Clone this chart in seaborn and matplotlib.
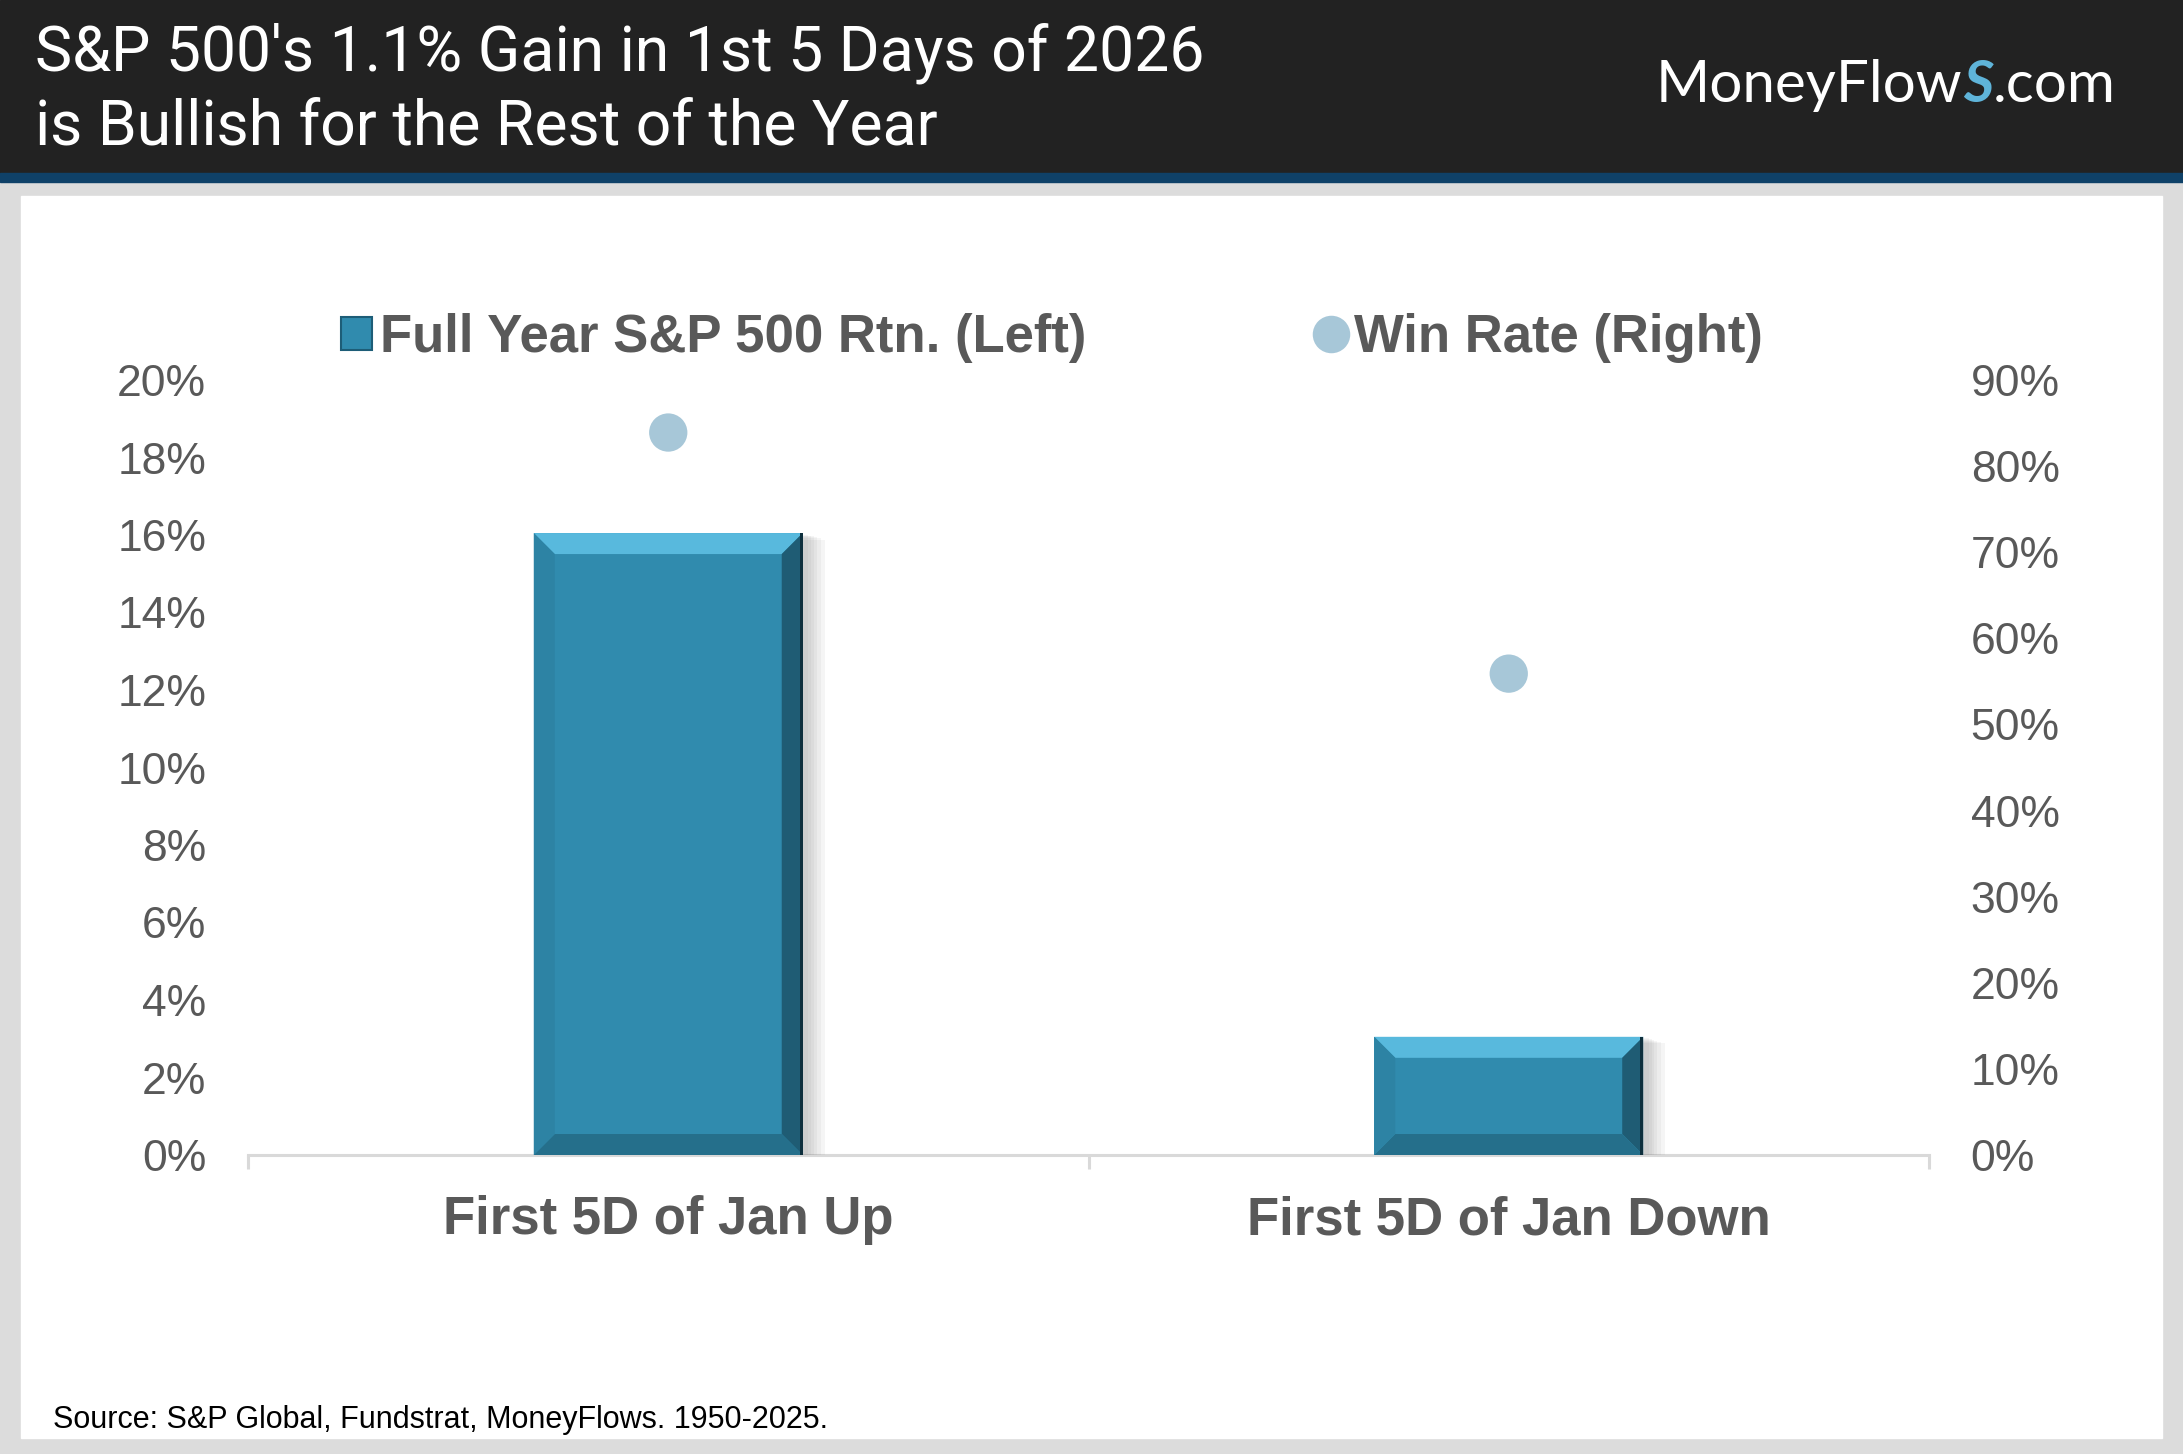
import numpy as np
import pandas as pd
import matplotlib
matplotlib.use("Agg")
import matplotlib.pyplot as plt
import matplotlib.patheffects as pe
from matplotlib.patches import Rectangle, Polygon, Patch
from matplotlib.lines import Line2D
from matplotlib.transforms import IdentityTransform
from matplotlib.ticker import FuncFormatter, MultipleLocator, FixedLocator
import seaborn as sns

# data
categories = ["First 5D of Jan Up", "First 5D of Jan Down"]
full_year_rtn = [16.05, 3.05]    # % (left axis)
win_rate = [83.9, 55.9]          # % (right axis)

TITLE = "S&P 500's 1.1% Gain in 1st 5 Days of 2026\nis Bullish for the Rest of the Year"
SOURCE = "Source: S&P Global, Fundstrat, MoneyFlows. 1950-2025."
BAR_LABEL = "Full Year S&P 500 Rtn. (Left)"
DOT_LABEL = "Win Rate (Right)"

BAR_COLOR = "#308bae"
DOT_COLOR = "#a7c7d8"
TXT_GRAY = "#595959"
AXIS_GRAY = "#d9d9d9"

sns.set_theme(style="white")
plt.rcParams["font.family"] = ["Liberation Sans", "DejaVu Sans"]

DPI = 100
fig = plt.figure(figsize=(21.83, 14.54), dpi=DPI, facecolor="#dcdcdc")

# header, stripe and white panel (figure pixels)
W, H = 2183, 1454
def px_rect(x0, y0, x1, y1, color):
    fig.patches.append(Rectangle((x0 / W, 1 - y1 / H), (x1 - x0) / W, (y1 - y0) / H,
                                 transform=fig.transFigure, color=color, zorder=-10))
px_rect(0, 0, W, 173, "#222222")
px_rect(0, 173, W, 182, "#0f4168")
px_rect(21, 196, 2162, 1438, "white")

fig.text(35 / W, 1 - 90 / H, TITLE, color="white", fontsize=45, family="Roboto",
         va="center", ha="left", linespacing=1.3)

fig.text(53 / W, 1 - 1420 / H, SOURCE, color="black", fontsize=22, va="center")

ax = fig.add_axes([248 / W, 1 - 1155 / H, (1929 - 248) / W, (1155 - 380) / H])
ax.set_facecolor("none")

df = pd.DataFrame({"category": categories, "rtn": full_year_rtn, "win": win_rate})
sns.barplot(data=df, x="category", y="rtn", ax=ax, color=BAR_COLOR,
            saturation=1, width=0.32, zorder=3)
# soft drop shadow: stacked faint offsets
shadow = [pe.SimplePatchShadow(offset=(k, -k * 0.3), shadow_rgbFace="#7a7a7a", alpha=0.07)
          for k in (16, 13, 10, 8, 6, 4)]
for p in ax.patches:
    p.set_edgecolor("none")
    p.set_path_effects(shadow + [pe.Normal()])

ax2 = ax.twinx()
sns.scatterplot(x=np.arange(len(categories)), y=df["win"], ax=ax2, s=760,
                color=DOT_COLOR, edgecolor="none", zorder=4, legend=False)

ax.set_xlim(-0.5, len(categories) - 0.5)
ax.set_ylim(0, 20)
ax2.set_ylim(0, 90)
ax.yaxis.set_major_locator(MultipleLocator(2))
ax2.yaxis.set_major_locator(MultipleLocator(10))
pct = FuncFormatter(lambda v, _: f"{v:.0f}%")
ax.yaxis.set_major_formatter(pct)
ax2.yaxis.set_major_formatter(pct)
ax.set_xlabel("")
ax.set_ylabel("")
ax2.set_ylabel("")

for a in (ax, ax2):
    for s in a.spines.values():
        s.set_visible(False)
ax.spines["bottom"].set_visible(True)
ax.spines["bottom"].set_color(AXIS_GRAY)
ax.spines["bottom"].set_linewidth(2.2)
ax.spines["bottom"].set_zorder(2)

ax.tick_params(axis="y", length=0, pad=30, labelsize=32, labelcolor=TXT_GRAY)
ax2.tick_params(axis="y", length=0, pad=30, labelsize=32, labelcolor=TXT_GRAY)
ax.tick_params(axis="x", which="major", length=0, pad=29, labelsize=38, labelcolor=TXT_GRAY)
for lab in ax.get_xticklabels():
    lab.set_fontweight("bold")
ax.xaxis.set_minor_locator(FixedLocator(np.arange(len(categories) + 1) - 0.5))
ax.tick_params(axis="x", which="minor", length=10, width=2.2, color=AXIS_GRAY, bottom=True)
ax.grid(False)
ax2.grid(False)

# legend
handles = [Patch(facecolor=BAR_COLOR, edgecolor="#1d5d77", linewidth=1.5),
           Line2D([], [], marker="o", linestyle="none", markersize=27,
                  markerfacecolor=DOT_COLOR, markeredgecolor="none")]
leg = fig.legend(handles, [BAR_LABEL, DOT_LABEL], loc="center",
                 bbox_to_anchor=(1052 / W, 1 - 338 / H), ncol=2, frameon=False,
                 prop={"weight": "bold", "size": 38}, handlelength=0.6,
                 handleheight=0.6, handletextpad=0.15, columnspacing=4.32)
for t in leg.get_texts():
    t.set_color(TXT_GRAY)

# bevel edges on the bars, built from the drawn bar extents
fig.canvas.draw()
renderer = fig.canvas.get_renderer()
bev = 21
for p in ax.patches:
    bb = p.get_window_extent(renderer)
    x0, y0, x1, y1 = bb.x0, bb.y0, bb.x1, bb.y1
    faces = [
        ([(x0, y1), (x1, y1), (x1 - bev, y1 - bev), (x0 + bev, y1 - bev)], "#58b9dd"),
        ([(x1, y1), (x1, y0), (x1 - bev, y0 + bev), (x1 - bev, y1 - bev)], "#1f5c74"),
        ([(x0, y0), (x1, y0), (x1 - bev, y0 + bev), (x0 + bev, y0 + bev)], "#256f8b"),
        ([(x0, y0), (x0, y1), (x0 + bev, y1 - bev), (x0 + bev, y0 + bev)], "#2d83a4"),
    ]
    for pts, c in faces:
        fig.add_artist(Polygon(pts, closed=True, facecolor=c, edgecolor="none",
                               transform=IdentityTransform(), zorder=3))
    fig.add_artist(Rectangle((x1 - 3, y0), 3, y1 - y0, facecolor="#0e2f3d",
                             edgecolor="none", transform=IdentityTransform(), zorder=3))

# logo text
lx, ly = 1656, 1 - 86 / H
t1 = fig.text(lx / W, ly, "MoneyFlow", color="white", fontsize=42, family="Lato",
              va="center", ha="left")
fig.canvas.draw()
e1 = t1.get_window_extent(renderer)
t2 = fig.text(e1.x1 / W, ly, "S", color="#5fb4d9", fontsize=42, family="Lato",
              fontweight="bold", style="italic", va="center", ha="left")
fig.canvas.draw()
e2 = t2.get_window_extent(renderer)
fig.text(e2.x1 / W, ly, ".com", color="white", fontsize=42, family="Lato",
         va="center", ha="left")

fig.savefig("out.png", dpi=DPI, facecolor=fig.get_facecolor())
